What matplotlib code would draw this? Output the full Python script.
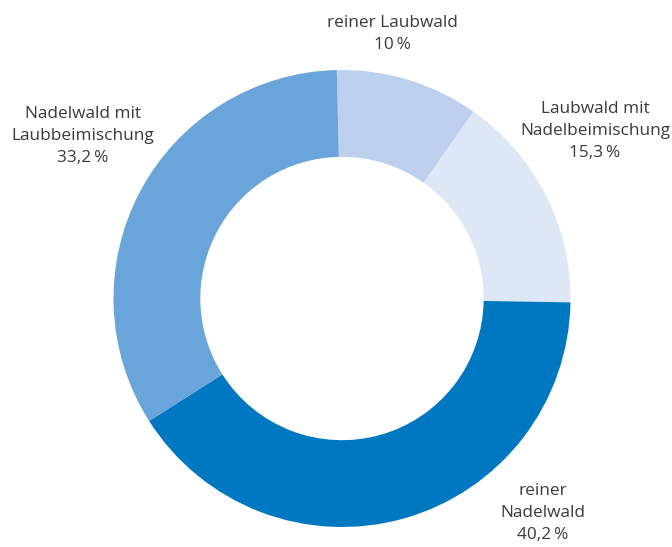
import numpy as np
import matplotlib
matplotlib.use('Agg')
from matplotlib import pyplot as plt

plt.rcParams['font.family'] = ['Open Sans', 'DejaVu Sans']

# Anteile Waldtypen (%), im Uhrzeigersinn ab 12 Uhr
kategorien = ['reiner Laubwald', 'Laubwald mit\nNadelbeimischung',
              'reiner\nNadelwald', 'Nadelwald mit\nLaubbeimischung']
anteile = [10, 15.3, 40.2, 33.2]
anteil_text = ['10\u2009%', '15,3\u2009%', '40,2\u2009%', '33,2\u2009%']

farben = ['#bdd0ee', '#dee7f5', '#0078c1', '#69a5da']

# Beschriftungspositionen in Bildpixeln (x, y von oben)
label_pos = [(392, 34), (595, 131), (543, 513), (83, 136)]

W, H = 672, 547
cx, cy, r_px = 342, 298.5, 228.5

fig = plt.figure(figsize=(W / 100, H / 100), dpi=100)
ax = fig.add_axes([0, 0, 1, 1])

ax.pie(anteile, colors=farben, startangle=91.3, counterclock=False,
       radius=1.0, wedgeprops=dict(width=0.38, linewidth=0))

for kat, txt, (px, py) in zip(kategorien, anteil_text, label_pos):
    ax.text((px - cx) / r_px, (cy - py) / r_px, kat + '\n' + txt,
            ha='center', va='center', fontsize=12.4, color='#3a3a3a',
            linespacing=1.5)

ax.set_xlim(-cx / r_px, (W - cx) / r_px)
ax.set_ylim(-(H - cy) / r_px, cy / r_px)
ax.set_aspect('equal')
ax.axis('off')

plt.savefig('out.png', dpi=100, facecolor='white')
